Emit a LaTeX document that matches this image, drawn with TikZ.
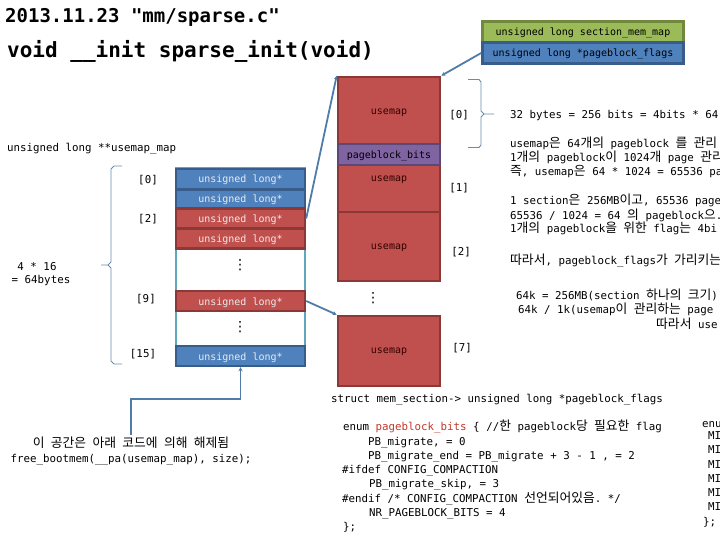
\documentclass[tikz,border=0pt]{standalone}
\usepackage{fontspec}
\usetikzlibrary{arrows.meta}
\setmonofont{DejaVu Sans Mono}
\newfontfamily\krf[WordSpace=2.2]{Noto Sans CJK KR}
\newfontfamily\dvf{DejaVu Sans}
\newcommand{\K}[1]{{\krf\fontsize{12.8}{12}\selectfont #1}}
\definecolor{cgreen}{HTML}{9BBB59}
\definecolor{cgreenb}{HTML}{71893F}
\definecolor{cblue}{HTML}{4F81BD}
\definecolor{cblueb}{HTML}{385D8A}
\definecolor{cred}{HTML}{C0504D}
\definecolor{credb}{HTML}{8C3836}
\definecolor{cpur}{HTML}{8064A2}
\definecolor{cpurb}{HTML}{5C4776}
\definecolor{cteal}{HTML}{5FA8BC}
\definecolor{clink}{HTML}{4F7CA8}
\definecolor{cbrace}{HTML}{6A8CAA}
\definecolor{cname}{HTML}{C0392B}
\tikzset{
  every node/.style={font=\ttfamily\fontsize{10.8}{12}\selectfont, inner sep=0pt},
  tx/.style={anchor=base west, text=black, yshift=-1pt},
  idx/.style={anchor=center, text=black, yshift=-1pt, font=\ttfamily\fontsize{10.8}{12}\selectfont},
  cellbox/.style={draw=#1, line width=2.4pt, minimum width=129pt, text height=10pt, text depth=2pt, font=\ttfamily\fontsize{10}{12}\selectfont, text=white!92!black},
  bigbox/.style={draw=credb, fill=cred, line width=2.6pt, minimum width=102pt},
  topbox/.style={line width=2.6pt, minimum width=201pt, minimum height=21pt, text height=10pt, text depth=2pt, font=\ttfamily\fontsize{10}{12}\selectfont, text=black},
  maplabel/.style={anchor=center, text=black!80!red, font=\ttfamily\fontsize{10}{12}\selectfont},
  link/.style={draw=clink, line width=1.8pt, -{Stealth[length=4pt,width=4pt]}},
  bracelinet/.style={draw=cbrace, line width=0.9pt},
  dots/.style={anchor=center, font=\dvf\fontsize{14}{14}\selectfont, text=black}
}
\begin{document}
\begin{tikzpicture}[x=1pt,y=-1pt]
\useasboundingbox (0,0) rectangle (720,540);
% titles
\node[tx,font=\ttfamily\bfseries\fontsize{19}{22}\selectfont] (title) at (5,22) {2013.11.23 "mm/sparse.c"};
\node[tx,font=\ttfamily\bfseries\fontsize{21}{24}\selectfont] (func) at (7,57) {void \_\_init sparse\_init(void)};
% top boxes
\node[topbox,draw=cgreenb,fill=cgreen] (mem) at (583,32) {unsigned long section\_mem\_map};
\node[topbox,draw=cblueb,fill=cblue] (flags) at (583,53) {unsigned long *pageblock\_flags};
% big column
\node[bigbox,minimum height=67pt] (u0) at (389,110.5) {};
\node[bigbox,minimum height=47pt] (u1) at (389,188.5) {};
\node[bigbox,minimum height=69pt] (u2) at (389,246.5) {};
\node[bigbox,minimum height=70pt] (u7) at (389,351) {};
\node[bigbox,draw=cpurb,fill=cpur,minimum height=21pt,text height=10pt,text depth=2pt,font=\ttfamily\fontsize{10}{12}\selectfont,text=black] (pbits) at (389,154.5) {pageblock\_bits};
\node[maplabel] (lu0) at (389,113) {usemap};
\node[maplabel] (lu1) at (389,180) {usemap};
\node[maplabel] (lu2) at (389,248) {usemap};
\node[maplabel] (lu7) at (389,352) {usemap};
\node[dots] (d3) at (373,298) {⋮};
% right indexes
\node[idx] (i0) at (459,114) {[0]};
\node[idx] (i1) at (459,187) {[1]};
\node[idx] (i2) at (461,251) {[2]};
\node[idx] (i7) at (462,347) {[7]};
% array
\node[draw=cteal,line width=2.4pt,minimum width=129pt,minimum height=198pt] (arr) at (240.5,267) {};
\node[cellbox=cblueb,fill=cblue,minimum height=20pt] (r0) at (240.5,179) {unsigned long*};
\node[cellbox=cblueb,fill=cblue,minimum height=19pt] (r1) at (240.5,199) {unsigned long*};
\node[cellbox=credb,fill=cred,minimum height=20pt] (r2) at (240.5,218.5) {unsigned long*};
\node[cellbox=credb,fill=cred,minimum height=20pt] (r3) at (240.5,238.5) {unsigned long*};
\node[cellbox=credb,fill=cred,minimum height=20pt] (r9) at (240.5,301) {unsigned long*};
\node[cellbox=cblueb,fill=cblue,minimum height=20pt] (r15) at (240.5,356) {unsigned long*};
\node[dots] (d1) at (240,265) {⋮};
\node[dots] (d2) at (240,327) {⋮};
\node[idx] (l0) at (148,179) {[0]};
\node[idx] (l2) at (148,218) {[2]};
\node[idx] (l9) at (146,298) {[9]};
\node[idx] (l15) at (143,353) {[15]};
\node[tx] (umap) at (7,151) {unsigned long **usemap\_map};
\node[idx] (sz1) at (37,266) {4 * 16};
\node[idx] (sz2) at (41,280) {= 64bytes};
% left brace
\coordinate (lbt) at (122,166);
\coordinate (lbb) at (122,364);
\coordinate (lbm) at (101,265);
\draw[bracelinet] (lbt) -- (114,166) -- (111,169) -- (111,262) -- (108,265) -- (lbm);
\draw[bracelinet] (108,265) -- (111,268) -- (111,361) -- (114,364) -- (lbb);
% right brace
\coordinate (rbt) at (468,79.5);
\coordinate (rbb) at (468,147.5);
\coordinate (rbm) at (494,114);
\draw[bracelinet] (rbt) -- (479,79.5) -- (481,82) -- (481,111) -- (484,114) -- (rbm);
\draw[bracelinet] (484,114) -- (481,117) -- (481,145) -- (479,147.5) -- (rbb);
% free text
\node[anchor=base] (free1) at (131,447) {\K{이 공간은 아래 코드에 의해 해제됨}};
\node[anchor=base] (free2) at (131,462) {free\_bootmem(\_\_pa(usemap\_map), size);};
\coordinate (elbow) at (131,399);
% connectors
\draw[link] (r2.east) -- (u0.north west);
\draw[link] (r9.east) -- (u7.north west);
\draw[link] (flags.west) -- (u0.north east);
\draw[link] (free1.north) ++(0,-1) -- (elbow) -| (r15.south);
% right text
\node[tx] (a1) at (510,118) {32 bytes = 256 bits = 4bits * 64};
\node[tx] (a2) at (510,147) {usemap\K{은} 64\K{개의} pageblock \K{를 관리}};
\node[tx] (a3) at (510,161) {1\K{개의} pageblock\K{이} 1024\K{개} page \K{관리}};
\node[tx] (a4) at (510,175) {\K{즉}, usemap\K{은} 64 * 1024 = 65536 pa};
\node[tx] (a5) at (510,204) {1 section\K{은} 256MB\K{이고}, 65536 page};
\node[tx] (a6) at (510,219) {65536 / 1024 = 64 \K{의} pageblock\K{으}.};
\node[tx] (a7) at (510,232) {1\K{개의} pageblock\K{을 위한} flag\K{는} 4bi};
\node[tx] (a8) at (510,263) {\K{따라서}, pageblock\_flags\K{가 가리키는}};
\node[tx] (b1) at (516,298) {64k = 256MB(section \K{하나의 크기})};
\node[tx] (b2) at (518,312) {64k / 1k(usemap\K{이 관리하는} page};
\node[tx] (b3) at (656,327) {\K{따라서} use};
% code
\node[tx] (st) at (331,401) {struct mem\_section-> unsigned long *pageblock\_flags};
\node[tx] (c1) at (343,429) {enum \textcolor{cname}{pageblock\_bits} \{ //\K{한} pageblock\K{당 필요한} flag};
\node[tx] (c2) at (368,444) {PB\_migrate, = 0};
\node[tx] (c3) at (368,458) {PB\_migrate\_end = PB\_migrate + 3 - 1 , = 2};
\node[tx] (c4) at (342,472) {\#ifdef CONFIG\_COMPACTION};
\node[tx] (c5) at (369,486) {PB\_migrate\_skip, = 3};
\node[tx] (c6) at (342,501) {\#endif /* CONFIG\_COMPACTION \K{선언되어있음}. */};
\node[tx] (c7) at (369,515) {NR\_PAGEBLOCK\_BITS = 4};
\node[tx] (c8) at (343,529) {\};};
\node[tx] (e0) at (702,426) {enu};
\node[tx] (e1) at (708,438) {MI};
\node[tx] (e2) at (708,452) {MI};
\node[tx] (e3) at (708,467) {MI};
\node[tx] (e4) at (708,481) {MI};
\node[tx] (e5) at (708,495) {MI};
\node[tx] (e6) at (708,509) {MI};
\node[tx] (e7) at (703,524) {\};};
\end{tikzpicture}
\end{document}
